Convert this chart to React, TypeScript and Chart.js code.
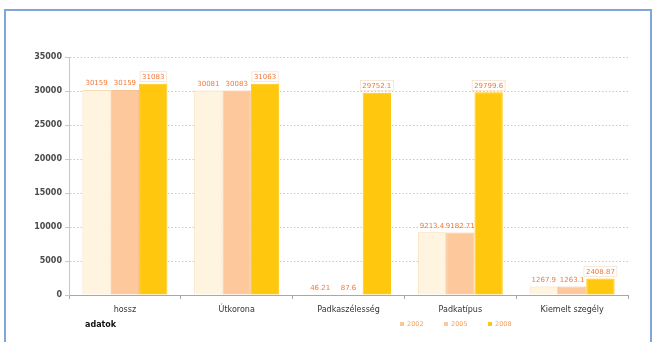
import React, { useEffect, useRef } from "react";
import { Chart, registerables } from "chart.js";

Chart.register(...registerables);

// Category names along the x axis
const categories = ["hossz", "Útkorona", "Padkaszélesség", "Padkatípus", "Kiemelt szegély"];

// Series values per year
const values2002 = [30159, 30081, 46.21, 9213.4, 1267.9];
const values2005 = [30159, 30083, 87.6, 9182.71, 1263.1];
const values2008 = [31083, 31063, 29752.1, 29799.6, 2408.87];

const seriesNames = ["2002", "2005", "2008"];
const yTicks = [0, 5000, 10000, 15000, 20000, 25000, 30000, 35000];

const FONT = "'DejaVu Sans', Verdana, sans-serif";
const LABEL_COLOR = "#f07a3a";

const fillColors = ["#fff4df", "#fdc99c", "#ffc70d"];
const edgeColors = ["#f9dcb2", "#f7c090", "#ffc70d"];

// Value labels above each bar
const valueLabels = {
  id: "valueLabels",
  afterDatasetsDraw(chart: any) {
    const ctx = chart.ctx;
    ctx.save();
    ctx.font = `7px ${FONT}`;
    ctx.textAlign = "center";
    ctx.textBaseline = "bottom";
    chart.data.datasets.forEach((ds: any, di: number) => {
      const meta = chart.getDatasetMeta(di);
      meta.data.forEach((bar: any, i: number) => {
        const text = String(ds.data[i]);
        const x = bar.x;
        const y = bar.y - 3;
        if (di === 2) {
          const w = ctx.measureText(text).width + 4;
          ctx.fillStyle = "#ffffff";
          ctx.fillRect(x - w / 2, y - 9, w, 10);
          ctx.strokeStyle = "#f3d9c0";
          ctx.lineWidth = 0.6;
          ctx.strokeRect(x - w / 2, y - 9, w, 10);
        }
        ctx.fillStyle = LABEL_COLOR;
        ctx.fillText(text, x, y);
      });
    });
    ctx.restore();
  },
};

// Axis title and series key under the x axis
const bottomNotes = {
  id: "bottomNotes",
  afterDraw(chart: any) {
    const ctx = chart.ctx;
    const area = chart.chartArea;
    ctx.save();
    ctx.font = `bold 8px ${FONT}`;
    ctx.fillStyle = "#111";
    ctx.textAlign = "left";
    ctx.textBaseline = "middle";
    ctx.fillText("adatok", area.left + 16, 325);

    ctx.font = `6.5px ${FONT}`;
    let x = area.left + 331;
    chart.data.datasets.forEach((ds: any, di: number) => {
      ctx.fillStyle = di === 0 ? "#f9c890" : ds.backgroundColor;
      ctx.fillRect(x, 322, 4, 4);
      ctx.fillStyle = "#f3a060";
      ctx.fillText(ds.label, x + 7, 324.5);
      x += 44;
    });
    ctx.restore();
  },
};

export default function App() {
  const canvasRef = useRef<HTMLCanvasElement | null>(null);

  useEffect(() => {
    if (!canvasRef.current) return;
    const series = [values2002, values2005, values2008];
    const chart = new Chart(canvasRef.current, {
      type: "bar",
      data: {
        labels: categories,
        datasets: series.map((vals, i) => ({
          label: seriesNames[i],
          data: vals,
          backgroundColor: fillColors[i],
          borderColor: edgeColors[i],
          borderWidth: 1,
          borderSkipped: "bottom",
          categoryPercentage: 0.76,
          barPercentage: 1.0,
        })),
      },
      options: {
        responsive: false,
        animation: false,
        events: [],
        layout: { padding: { left: 19, right: 30, top: 57, bottom: 0 } },
        plugins: {
          legend: { display: false },
          tooltip: { enabled: false },
          title: { display: false },
        },
        scales: {
          x: {
            offset: true,
            grid: {
              offset: true,
              drawOnChartArea: false,
              drawTicks: true,
              tickLength: 4,
              color: "#a8a8a8",
            },
            border: { display: true, color: "#a8a8a8" },
            ticks: {
              color: "#333",
              font: { family: FONT, size: 8 },
              padding: 6,
              maxRotation: 0,
              autoSkip: false,
            },
            afterFit: (s: any) => {
              s.height = 47;
            },
          },
          y: {
            min: 0,
            max: 35000,
            afterBuildTicks: (s: any) => {
              s.ticks = yTicks.map((v) => ({ value: v }));
            },
            grid: {
              color: "#c6cad0",
              drawTicks: true,
              tickLength: 4,
            },
            border: { display: true, color: "#c8c8c8", dash: [1.5, 2] },
            ticks: {
              color: "#4a4a4a",
              font: { family: FONT, size: 8, weight: "bold" },
              padding: 3,
              callback: (v: any) => String(v),
            },
            afterFit: (s: any) => {
              s.width = 50;
            },
          },
        },
      },
      plugins: [valueLabels, bottomNotes],
    });
    return () => chart.destroy();
  }, []);

  return (
    <div
      style={{
        position: "fixed",
        left: 0,
        top: 0,
        width: 658,
        height: 342,
        background: "#ffffff",
        overflow: "hidden",
      }}
    >
      <div
        style={{
          position: "absolute",
          left: 4,
          top: 9,
          width: 644,
          height: 340,
          borderTop: "2px solid #7fa6d8",
          borderLeft: "2px solid #7fa6d8",
          borderRight: "2px solid #7fa6d8",
        }}
      />
      <canvas
        ref={canvasRef}
        width={658}
        height={342}
        style={{ position: "absolute", left: 0, top: 0, width: 658, height: 342 }}
      />
    </div>
  );
}
